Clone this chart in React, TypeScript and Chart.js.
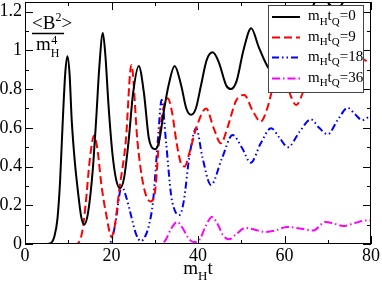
import React, { useEffect, useRef } from "react";
import { Chart, registerables } from "chart.js";

Chart.register(...registerables);

// ---------- data ----------
const xTicks = [0, 20, 40, 60, 80];
const xMinorTicks = [10, 30, 50, 70];
const yTicks = [0, 0.2, 0.4, 0.6, 0.8, 1, 1.2];
const yTickLabels = ["0", "0.2", "0.4", "0.6", "0.8", "1", "1.2"];
const yMinorTicks = [0.1, 0.3, 0.5, 0.7, 0.9, 1.1];
const tQLabels = ["0", "9", "18", "36"];

// m_H t_Q = 0 (black, solid)
const blackT = [0, 5, 6, 6.8, 7.5, 8.1, 8.7, 9.3, 9.8, 10.3, 10.8, 11.5, 12.3, 13, 13.7, 14.4, 15.1, 15.8, 16.5, 17.2, 18, 18.6, 19.3, 20.2, 21.1, 22, 22.9, 23.9, 25, 26.3, 27.5, 28.6, 29.3, 30.1, 31, 32.2, 33.2, 34.6, 36.1, 37.3, 38.4, 39.5, 40.7, 42, 43.4, 44.8, 46.5, 47.6, 48.9, 50.5, 52.3, 54, 56, 57.5, 59.5, 61.5, 63.5, 65, 66.8, 68.5, 70.3, 71.8, 73.3, 76, 80];
const blackV = [0, 0, 0.005, 0.04, 0.13, 0.32, 0.62, 0.88, 0.97, 0.88, 0.64, 0.43, 0.26, 0.14, 0.1, 0.14, 0.25, 0.42, 0.66, 0.92, 1.09, 0.97, 0.72, 0.47, 0.33, 0.288, 0.34, 0.52, 0.78, 0.92, 0.78, 0.55, 0.5, 0.49, 0.53, 0.7, 0.82, 0.92, 0.82, 0.7, 0.667, 0.7, 0.82, 0.95, 0.99, 0.94, 0.82, 0.8, 0.84, 1.0, 1.115, 1.02, 0.92, 0.88, 1.0, 1.18, 1.1, 1.12, 1.24, 1.3, 1.24, 1.22, 1.24, 1.4, 1.5];

// m_H t_Q = 9 (red, dashed)
const redT = [0, 12, 12.5, 13.2, 14, 15, 16, 16.8, 17.7, 18.8, 20, 20.8, 21.8, 23.3, 24.6, 26, 27, 28, 29, 30, 31.1, 32, 33, 34, 35, 36, 36.9, 38, 39.6, 41.9, 43.6, 45.3, 46.8, 48.8, 50.7, 52.6, 54.5, 56, 57.5, 59, 60.8, 62.7, 64.6, 67.5, 71.5, 76.5, 80];
const redV = [0, 0, 0.01, 0.06, 0.2, 0.44, 0.56, 0.48, 0.3, 0.15, 0.037, 0.1, 0.28, 0.53, 0.925, 0.53, 0.35, 0.25, 0.22, 0.26, 0.56, 0.7, 0.753, 0.68, 0.53, 0.42, 0.4, 0.47, 0.6, 0.7, 0.6, 0.52, 0.6, 0.74, 0.77, 0.69, 0.632, 0.7, 0.82, 0.88, 0.8, 0.718, 0.8, 0.93, 0.82, 0.97, 0.93];

// m_H t_Q = 18 (blue, dash-dot-dot)
const blueT = [0, 19.2, 20, 21, 21.8, 22.3, 23.3, 24.6, 25.7, 26.8, 27.8, 28.7, 29.6, 30.7, 31.6, 32.6, 33.8, 34.7, 35.7, 36.7, 38, 39.6, 41, 43, 45.5, 48, 50.1, 52.2, 54.5, 56.9, 58.8, 60.8, 63.5, 66.1, 68, 70, 72.3, 74.6, 76.3, 78, 80];
const blueV = [0, 0, 0.02, 0.12, 0.25, 0.3, 0.25, 0.14, 0.05, 0.015, 0.04, 0.1, 0.22, 0.53, 0.745, 0.53, 0.25, 0.17, 0.15, 0.22, 0.45, 0.598, 0.45, 0.305, 0.44, 0.563, 0.5, 0.42, 0.52, 0.598, 0.55, 0.5, 0.58, 0.644, 0.6, 0.567, 0.64, 0.704, 0.67, 0.64, 0.665];

// m_H t_Q = 36 (magenta, dash-dot)
const magentaT = [0, 31.5, 32.5, 33.8, 35.2, 36.5, 37.8, 39, 40.3, 41.7, 43.2, 44.6, 45.8, 47.1, 48.8, 50.9, 53, 55.5, 58, 60.5, 63.5, 66.7, 69.4, 71.5, 73.6, 76.5, 79, 80];
const magentaV = [0, 0, 0.02, 0.08, 0.114, 0.08, 0.03, 0.01, 0.02, 0.088, 0.14, 0.1, 0.045, 0.024, 0.05, 0.083, 0.075, 0.062, 0.07, 0.088, 0.08, 0.07, 0.114, 0.105, 0.093, 0.11, 0.122, 0.12];

// ---------- styles ----------
const FONT = "'Liberation Serif', 'Times New Roman', serif";
const seriesStyles = [
  { color: "#000000", dash: [] as number[] },
  { color: "#ff0000", dash: [8, 4] },
  { color: "#0000ff", dash: [7, 3, 1.5, 3, 1.5, 3] },
  { color: "#ff00ff", dash: [8, 3, 1.5, 3] },
];

const toPoints = (t: number[], v: number[]) => t.map((x, i) => ({ x, y: v[i] }));

type Part = { t: string; sub?: boolean; sup?: boolean };

function drawRich(ctx: CanvasRenderingContext2D, parts: Part[], x: number, y: number, size: number, small: number, measureOnly = false) {
  let cx = x;
  for (const p of parts) {
    const fs = p.sub || p.sup ? small : size;
    ctx.font = `${fs}px ${FONT}`;
    const dy = p.sub ? size * 0.33 : p.sup ? -size * 0.42 : 0;
    if (!measureOnly) ctx.fillText(p.t, cx, y + dy);
    cx += ctx.measureText(p.t).width;
  }
  return cx - x;
}

const decorPlugin = {
  id: "decor",
  afterDraw(chart: any) {
    const { ctx, chartArea: a, scales } = chart;
    const xs = scales.x;
    const ys = scales.y;
    ctx.save();
    // frame
    ctx.strokeStyle = "#000";
    ctx.lineWidth = 1;
    ctx.setLineDash([]);
    ctx.strokeRect(a.left + 0.5, a.top + 0.5, a.right - a.left - 1, a.bottom - a.top - 1);
    // inward ticks on all sides
    ctx.beginPath();
    const xt = (v: number, len: number) => {
      const px = Math.round(xs.getPixelForValue(v)) + 0.5;
      ctx.moveTo(px, a.bottom);
      ctx.lineTo(px, a.bottom - len);
      ctx.moveTo(px, a.top);
      ctx.lineTo(px, a.top + len);
    };
    const yt = (v: number, len: number) => {
      const py = Math.round(ys.getPixelForValue(v)) + 0.5;
      ctx.moveTo(a.left, py);
      ctx.lineTo(a.left + len, py);
      ctx.moveTo(a.right, py);
      ctx.lineTo(a.right - len, py);
    };
    xTicks.forEach((v) => xt(v, 8));
    xMinorTicks.forEach((v) => xt(v, 4));
    yTicks.forEach((v) => yt(v, 8));
    yMinorTicks.forEach((v) => yt(v, 4));
    ctx.stroke();

    ctx.fillStyle = "#000";
    ctx.textAlign = "left";
    ctx.textBaseline = "alphabetic";

    // y-axis label: <B^2> / m_H^4
    const lx = a.left + 7;
    const w1 = drawRich(ctx, [{ t: "<B" }, { t: "2", sup: true }, { t: ">" }], lx, a.top + 27, 19, 12);
    ctx.beginPath();
    ctx.moveTo(lx, a.top + 31.5);
    ctx.lineTo(lx + w1 - 8, a.top + 31.5);
    ctx.lineWidth = 1.5;
    ctx.stroke();
    ctx.font = `19px ${FONT}`;
    ctx.fillText("m", lx + 4, a.top + 48);
    const mw = ctx.measureText("m").width;
    ctx.font = `12px ${FONT}`;
    ctx.fillText("4", lx + 4 + mw + 0.5, a.top + 42);
    ctx.fillText("H", lx + 4 + mw, a.top + 55);

    // x-axis title: m_H t
    const titleParts: Part[] = [{ t: "m" }, { t: "H", sub: true }, { t: "t" }];
    const tw = drawRich(ctx, titleParts, 0, 0, 19, 13, true);
    const cxm = (a.left + a.right) / 2;
    drawRich(ctx, titleParts, cxm - tw / 2, chart.height - 9, 19, 13);

    // legend
    const bx = a.right - 103;
    const by = a.top + 3;
    const bw = 95;
    const bh = 87;
    ctx.fillStyle = "#fff";
    ctx.fillRect(bx, by, bw, bh);
    ctx.strokeStyle = "#444";
    ctx.lineWidth = 1;
    ctx.strokeRect(bx + 0.5, by + 0.5, bw, bh);
    const rows = [12, 32.5, 52.5, 73.5];
    tQLabels.forEach((lab, i) => {
      const ry = by + rows[i];
      ctx.strokeStyle = seriesStyles[i].color;
      ctx.lineWidth = 2;
      ctx.setLineDash(seriesStyles[i].dash);
      ctx.beginPath();
      ctx.moveTo(bx + 4, ry);
      ctx.lineTo(bx + 32, ry);
      ctx.stroke();
      ctx.setLineDash([]);
      ctx.fillStyle = "#000";
      drawRich(ctx, [{ t: "m" }, { t: "H", sub: true }, { t: "t" }, { t: "Q", sub: true }, { t: "=" + lab }], bx + 40, ry + 3, 15, 11);
    });
    ctx.restore();
  },
};

export default function App() {
  const ref = useRef<HTMLCanvasElement | null>(null);
  useEffect(() => {
    if (!ref.current) return;
    const series = [
      toPoints(blackT, blackV),
      toPoints(redT, redV),
      toPoints(blueT, blueV),
      toPoints(magentaT, magentaV),
    ];
    const chart = new Chart(ref.current, {
      type: "line",
      data: {
        datasets: series.map((d, i) => ({
          label: "tQ=" + tQLabels[i],
          data: d,
          borderColor: seriesStyles[i].color,
          borderDash: seriesStyles[i].dash,
          borderWidth: 2,
          pointRadius: 0,
          fill: false,
          cubicInterpolationMode: "monotone" as const,
        })),
      },
      options: {
        animation: false,
        responsive: false,
        devicePixelRatio: 1,
        layout: { padding: { left: 0, top: 2, right: 11, bottom: 0 } },
        plugins: { legend: { display: false }, tooltip: { enabled: false } },
        scales: {
          x: {
            type: "linear",
            min: 0,
            max: 80,
            afterBuildTicks: (s: any) => {
              s.ticks = xTicks.map((v) => ({ value: v }));
            },
            afterFit: (s: any) => {
              s.height = 39;
              s.paddingLeft = 0;
              s.paddingRight = 0;
            },
            ticks: {
              color: "#000",
              font: { family: FONT, size: 18 },
              padding: 1,
              maxRotation: 0,
              autoSkip: false,
            },
            grid: { display: false, drawTicks: false },
            border: { display: false },
          },
          y: {
            type: "linear",
            min: 0,
            max: 1.25,
            afterBuildTicks: (s: any) => {
              s.ticks = yTicks.map((v) => ({ value: v }));
            },
            afterFit: (s: any) => {
              s.width = 25;
              s.paddingTop = 0;
              s.paddingBottom = 0;
            },
            ticks: {
              color: "#000",
              font: { family: FONT, size: 18 },
              padding: 3,
              autoSkip: false,
              callback: (_v: any, i: number) => yTickLabels[i],
            },
            grid: { display: false, drawTicks: false },
            border: { display: false },
          },
        },
      },
      plugins: [decorPlugin],
    });
    return () => chart.destroy();
  }, []);
  return (
    <div style={{ position: "absolute", left: 0, top: 0, width: 382, height: 283, background: "#fff" }}>
      <canvas ref={ref} width={382} height={283} />
    </div>
  );
}
